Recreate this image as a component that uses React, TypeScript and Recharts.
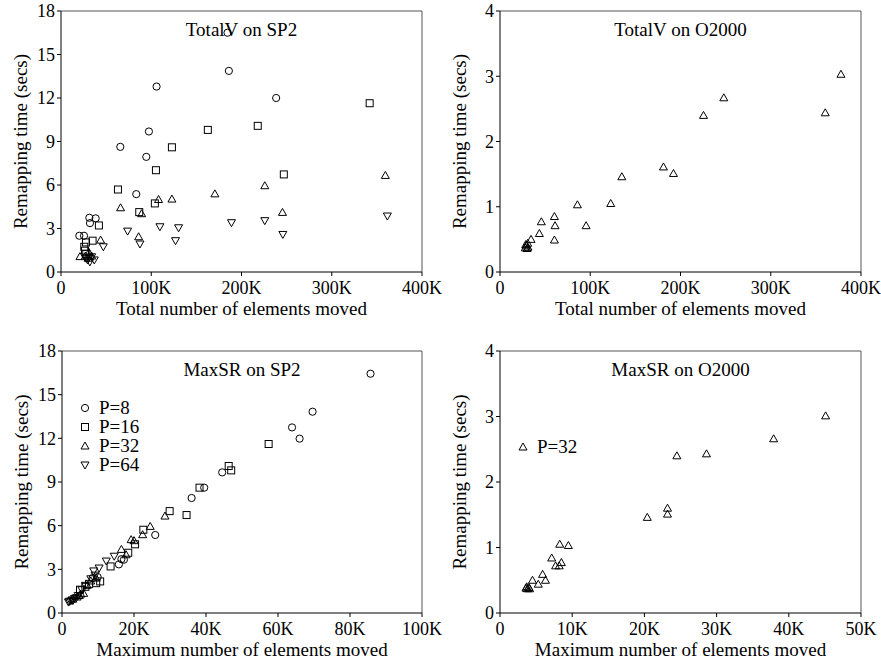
import React from "react";
import {
  ScatterChart,
  Scatter,
  XAxis,
  YAxis,
  ReferenceLine,
  Legend,
} from "recharts";

// x values are in thousands of elements, y values in seconds
const totalSp2P8 = [
  [20.3, 2.5], [25.5, 2.5], [31.4, 3.74], [32.1, 3.37], [38.4, 3.7], [65.7, 8.63],
  [83.4, 5.37], [94.5, 7.94], [97.4, 9.69], [105.9, 12.79], [184.5, 16.5], [186, 13.87],
  [238.4, 12.0],
];
const totalSp2P16 = [
  [63.1, 5.69], [86.7, 4.13], [104, 4.73], [105.2, 7.02], [122.9, 8.6], [162.7, 9.8],
  [218, 10.08], [246.9, 6.73], [342, 11.64], [42, 3.21], [35, 2.16], [27.7, 2.04],
  [25.8, 1.74], [26.6, 1.47], [28, 1.25],
];
const totalSp2P32 = [
  [359.4, 6.66], [225.8, 5.95], [170.5, 5.39], [122.9, 5.03], [108.1, 5.0], [66, 4.43],
  [89.3, 4.02], [245.4, 4.11], [86, 2.43], [43.9, 2.2], [21, 1.06], [27, 1.1],
  [31, 1.35], [34, 1.1], [30, 0.95],
];
const totalSp2P64 = [
  [361.6, 3.86], [225.8, 3.54], [188.9, 3.4], [130.3, 3.05], [109.6, 3.12], [73.8, 2.82],
  [126.9, 2.16], [245.8, 2.59], [87.5, 1.93], [46.9, 1.74], [36.9, 0.83], [29.5, 0.83],
  [32, 0.7], [31, 1.0], [34, 1.05], [28, 0.95],
];

const totalO2kP32 = [
  [377.8, 3.03], [360.4, 2.44], [248, 2.67], [225.5, 2.4], [181.1, 1.61], [192.2, 1.51],
  [135, 1.46], [122.7, 1.05], [85.8, 1.03], [95.4, 0.71], [60.3, 0.85], [61, 0.71],
  [60.3, 0.49], [45.8, 0.77], [43.6, 0.59], [34.4, 0.5], [30.7, 0.44], [28, 0.37],
  [29, 0.4], [30, 0.36], [31, 0.38], [28.5, 0.42],
];

const maxSp2P8 = [
  [85.7, 16.44], [69.6, 13.83], [63.9, 12.75], [66, 11.98], [44.5, 9.66], [39.5, 8.61],
  [36, 7.9], [25.9, 5.36], [15.8, 3.34], [17.2, 3.66], [9.9, 2.47], [8.5, 2.4], [16.5, 3.7],
];
const maxSp2P16 = [
  [57.4, 11.61], [46.3, 10.1], [47, 9.8], [38.2, 8.61], [29.9, 7.0], [34.6, 6.73],
  [22.6, 5.72], [20.3, 4.72], [18.4, 4.14], [13.5, 3.2], [10.6, 2.17], [9.5, 2.05],
  [7.5, 2.0], [6.5, 1.8], [5, 1.6],
];
const maxSp2P32 = [
  [28.6, 6.66], [24.5, 5.95], [22.4, 5.38], [20, 4.97], [19.2, 5.04], [16.5, 4.37],
  [17.8, 4.0], [9.5, 2.4], [6, 1.35], [5.2, 1.3], [4.2, 1.1], [4.8, 1.2], [3, 0.95],
  [8, 2.2], [7, 1.9],
];
const maxSp2P64 = [
  [14.5, 3.9], [12.3, 3.57], [10.3, 3.09], [8.8, 2.89], [9.2, 2.6], [8, 2.35], [6.5, 1.9],
  [5.5, 1.6], [4.5, 1.2], [3.5, 1.0], [2.8, 0.9], [2, 0.8], [1.8, 0.75], [3, 0.85],
  [2.4, 0.82], [4, 1.05],
];

const maxO2kP32 = [
  [45.1, 3.01], [37.9, 2.66], [28.6, 2.43], [24.5, 2.4], [23.2, 1.6], [23.2, 1.51],
  [20.4, 1.46], [9.47, 1.03], [8.27, 1.05], [7.16, 0.84], [8.5, 0.77], [7.7, 0.72],
  [8.2, 0.72], [5.9, 0.59], [6.3, 0.5], [4.5, 0.5], [5.3, 0.44], [3.6, 0.38], [3.8, 0.37],
  [4.0, 0.39], [4.1, 0.37], [3.7, 0.4],
];

const spYTicks = [0, 3, 6, 9, 12, 15, 18];
const o2kYTicks = [0, 1, 2, 3, 4];
const totalXTicks = [0, 100, 200, 300, 400];
const maxSp2XTicks = [0, 20, 40, 60, 80, 100];
const maxO2kXTicks = [0, 10, 20, 30, 40, 50];

const serif = "Liberation Serif, DejaVu Serif, serif";

const toPoints = (arr: number[][]) => arr.map(([x, y]) => ({ x, y }));

type Kind = "circle" | "square" | "tri" | "inv";

function marker(kind: Kind, cx: number, cy: number) {
  const p = { fill: "none", stroke: "#000", strokeWidth: 1 };
  if (kind === "circle") return <circle cx={cx} cy={cy} r={3.6} {...p} />;
  if (kind === "square") return <rect x={cx - 3.5} y={cy - 3.5} width={7} height={7} {...p} />;
  if (kind === "tri")
    return <polygon points={`${cx},${cy - 4} ${cx - 4},${cy + 3} ${cx + 4},${cy + 3}`} {...p} />;
  return <polygon points={`${cx - 4},${cy - 3} ${cx + 4},${cy - 3} ${cx},${cy + 4}`} {...p} />;
}

const shapeOf = (kind: Kind) => (props: any) => marker(kind, props.cx, props.cy);

type Series = { name: string; data: number[][]; kind: Kind };

type PanelProps = {
  left: number;
  top: number;
  width: number;
  height: number;
  yAxisWidth: number;
  rightMargin: number;
  xAxisHeight: number;
  xTicks: number[];
  yTicks: number[];
  title: string;
  xLabel: string;
  series: Series[];
  legendPos?: { left: number; top: number };
};

function legendContent(series: Series[]) {
  return () => (
    <div style={{ fontFamily: serif, fontSize: 19, color: "#000" }}>
      {series.map((s) => (
        <div key={s.name} style={{ display: "flex", alignItems: "center", height: 19 }}>
          <svg width={14} height={12} style={{ marginRight: 7 }}>
            {marker(s.kind, 7, 6)}
          </svg>
          <span>{s.name}</span>
        </div>
      ))}
    </div>
  );
}

function Panel(props: PanelProps) {
  const { left, top, width, height, yAxisWidth, rightMargin, xAxisHeight, xTicks, yTicks } = props;
  const xMax = xTicks[xTicks.length - 1];
  const yMax = yTicks[yTicks.length - 1];
  const plotLeft = yAxisWidth;
  const plotRight = width - rightMargin;
  return (
    <div style={{ position: "absolute", left, top, width, height }}>
      <ScatterChart
        width={width}
        height={height}
        margin={{ top: 11, right: rightMargin, left: 0, bottom: 0 }}
      >
        <XAxis
          type="number"
          dataKey="x"
          domain={[0, xMax]}
          ticks={xTicks}
          interval={0}
          allowDataOverflow
          height={xAxisHeight}
          tickFormatter={(v: number) => (v === 0 ? "0" : `${v}K`)}
          tick={{ fill: "#000", fontSize: 18, fontFamily: serif }}
          stroke="#000"
          tickSize={4}
          tickMargin={5}
          label={{
            content: ({ viewBox }: any) => (
              <text
                x={viewBox.x + viewBox.width / 2}
                y={viewBox.y + 43}
                textAnchor="middle"
                fontFamily={serif}
                fontSize={19}
                fill="#000"
              >
                {props.xLabel}
              </text>
            ),
          }}
        />
        <YAxis
          type="number"
          dataKey="y"
          domain={[0, yMax]}
          ticks={yTicks}
          interval={0}
          allowDataOverflow
          width={yAxisWidth}
          tick={{ fill: "#000", fontSize: 18, fontFamily: serif }}
          stroke="#000"
          tickSize={4}
          tickMargin={2}
          label={{
            content: ({ viewBox }: any) => {
              const cx = viewBox.x + viewBox.width - 41;
              const cy = viewBox.y + viewBox.height / 2;
              return (
                <text
                  x={cx}
                  y={cy}
                  transform={`rotate(-90, ${cx}, ${cy})`}
                  textAnchor="middle"
                  dominantBaseline="central"
                  fontFamily={serif}
                  fontSize={19}
                  fill="#000"
                >
                  Remapping time (secs)
                </text>
              );
            },
          }}
        />
        <ReferenceLine y={yMax} stroke="#555" />
        <ReferenceLine x={xMax} stroke="#555" />
        {props.series.map((s) => (
          <Scatter
            key={s.name}
            name={s.name}
            data={toPoints(s.data)}
            shape={shapeOf(s.kind)}
            isAnimationActive={false}
          />
        ))}
        {props.legendPos && (
          <Legend
            layout="vertical"
            align="center"
            verticalAlign="middle"
            wrapperStyle={{
              left: props.legendPos.left,
              top: props.legendPos.top,
              width: "auto",
              bottom: "auto",
            }}
            content={legendContent(props.series)}
          />
        )}
      </ScatterChart>
      <div
        style={{
          position: "absolute",
          left: plotLeft,
          width: plotRight - plotLeft,
          top: 20,
          textAlign: "center",
          fontFamily: serif,
          fontSize: 19,
          lineHeight: "20px",
          color: "#000",
        }}
      >
        {props.title}
      </div>
    </div>
  );
}

export default function App() {
  return (
    <div
      style={{
        position: "absolute",
        left: 0,
        top: 0,
        width: 881,
        height: 662,
        overflow: "hidden",
        background: "#fff",
      }}
    >
      <Panel
        left={440}
        top={0}
        width={441}
        height={330}
        yAxisWidth={60}
        rightMargin={20}
        xAxisHeight={58}
        xTicks={totalXTicks}
        yTicks={o2kYTicks}
        title="TotalV on O2000"
        xLabel="Total number of elements moved"
        series={[{ name: "P=32", data: totalO2kP32, kind: "tri" }]}
      />
      <Panel
        left={440}
        top={340}
        width={441}
        height={321}
        yAxisWidth={60}
        rightMargin={20}
        xAxisHeight={48}
        xTicks={maxO2kXTicks}
        yTicks={o2kYTicks}
        title="MaxSR on O2000"
        xLabel="Maximum number of elements moved"
        series={[{ name: "P=32", data: maxO2kP32, kind: "tri" }]}
        legendPos={{ left: 76, top: 97 }}
      />
      <Panel
        left={0}
        top={0}
        width={456}
        height={330}
        yAxisWidth={61}
        rightMargin={34}
        xAxisHeight={58}
        xTicks={totalXTicks}
        yTicks={spYTicks}
        title="TotalV on SP2"
        xLabel="Total number of elements moved"
        series={[
          { name: "P=8", data: totalSp2P8, kind: "circle" },
          { name: "P=16", data: totalSp2P16, kind: "square" },
          { name: "P=32", data: totalSp2P32, kind: "tri" },
          { name: "P=64", data: totalSp2P64, kind: "inv" },
        ]}
      />
      <Panel
        left={0}
        top={340}
        width={456}
        height={321}
        yAxisWidth={62}
        rightMargin={34}
        xAxisHeight={48}
        xTicks={maxSp2XTicks}
        yTicks={spYTicks}
        title="MaxSR on SP2"
        xLabel="Maximum number of elements moved"
        series={[
          { name: "P=8", data: maxSp2P8, kind: "circle" },
          { name: "P=16", data: maxSp2P16, kind: "square" },
          { name: "P=32", data: maxSp2P32, kind: "tri" },
          { name: "P=64", data: maxSp2P64, kind: "inv" },
        ]}
        legendPos={{ left: 78, top: 58 }}
      />
    </div>
  );
}
